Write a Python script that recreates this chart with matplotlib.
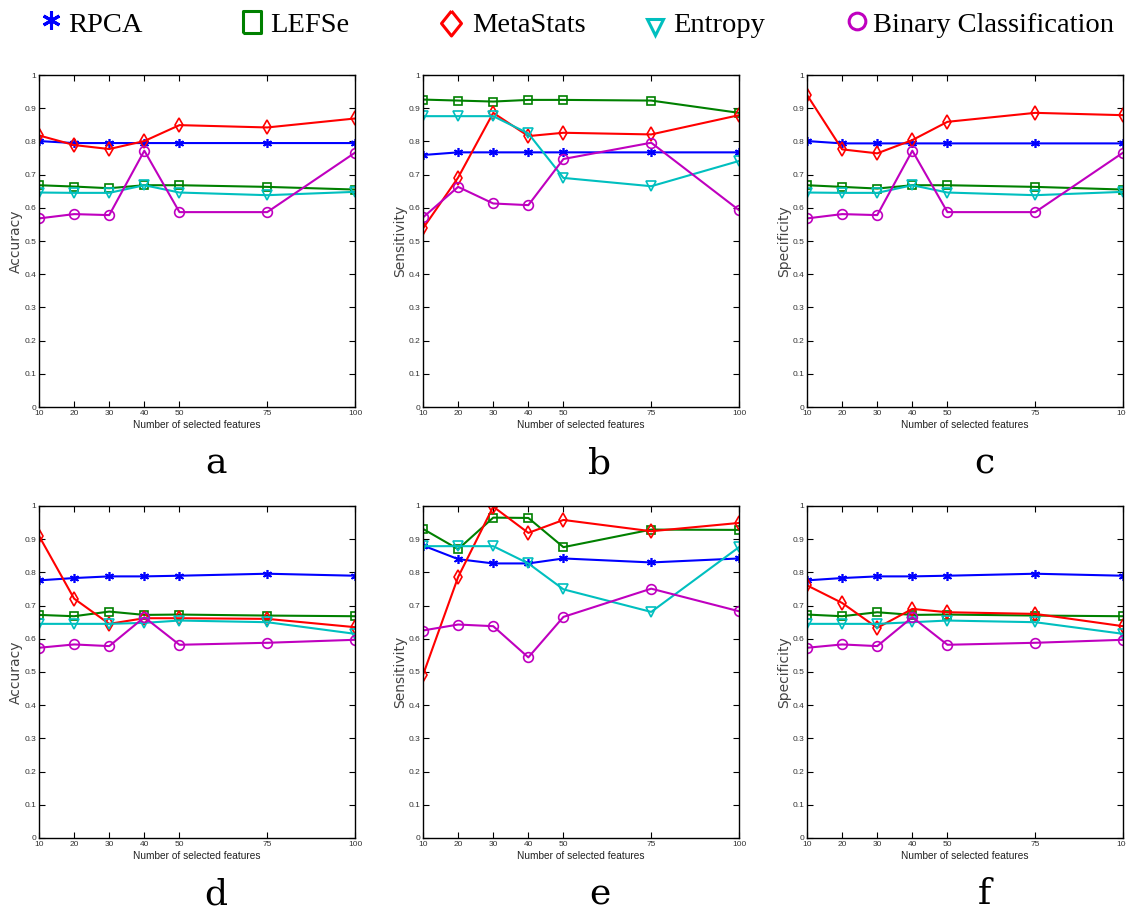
import matplotlib
matplotlib.use("Agg")
import matplotlib.pyplot as plt
from matplotlib.lines import Line2D

features = [10, 20, 30, 40, 50, 75, 100]
x_ticklabels = ["10", "20", "30", "40", "50", "75", "100"]
methods = ["RPCA", "LEFSe", "MetaStats", "Entropy", "Binary Classification"]
panel_letters = ["a", "b", "c", "d", "e", "f"]
y_labels = ["Accuracy", "Sensitivity", "Specificity", "Accuracy", "Sensitivity", "Specificity"]

# panel a
a_rpca = [0.801, 0.795, 0.795, 0.795, 0.795, 0.795, 0.795]
a_lefse = [0.668, 0.664, 0.659, 0.668, 0.668, 0.663, 0.655]
a_meta = [0.818, 0.789, 0.777, 0.801, 0.849, 0.842, 0.869]
a_entropy = [0.646, 0.645, 0.645, 0.668, 0.646, 0.638, 0.648]
a_binary = [0.568, 0.581, 0.578, 0.772, 0.587, 0.587, 0.766]
# panel b
b_rpca = [0.759, 0.767, 0.767, 0.767, 0.767, 0.767, 0.767]
b_lefse = [0.926, 0.923, 0.920, 0.925, 0.925, 0.923, 0.886]
b_meta = [0.538, 0.691, 0.886, 0.816, 0.826, 0.821, 0.879]
b_entropy = [0.876, 0.876, 0.876, 0.824, 0.690, 0.665, 0.741]
b_binary = [0.571, 0.663, 0.613, 0.608, 0.747, 0.796, 0.593]
# panel c
c_rpca = [0.801, 0.794, 0.794, 0.794, 0.794, 0.794, 0.794]
c_lefse = [0.668, 0.663, 0.658, 0.668, 0.668, 0.663, 0.655]
c_meta = [0.940, 0.776, 0.764, 0.804, 0.859, 0.886, 0.879]
c_entropy = [0.646, 0.645, 0.645, 0.668, 0.646, 0.638, 0.648]
c_binary = [0.568, 0.581, 0.578, 0.772, 0.587, 0.587, 0.766]
# panel d
d_rpca = [0.776, 0.783, 0.788, 0.788, 0.790, 0.796, 0.790]
d_lefse = [0.672, 0.668, 0.682, 0.672, 0.673, 0.670, 0.668]
d_meta = [0.910, 0.721, 0.645, 0.662, 0.662, 0.660, 0.635]
d_entropy = [0.645, 0.645, 0.645, 0.648, 0.655, 0.650, 0.615]
d_binary = [0.573, 0.583, 0.578, 0.665, 0.582, 0.588, 0.597]
# panel e
e_rpca = [0.881, 0.840, 0.827, 0.827, 0.842, 0.830, 0.842]
e_lefse = [0.931, 0.870, 0.965, 0.964, 0.876, 0.929, 0.928]
e_meta = [0.491, 0.786, 0.998, 0.919, 0.958, 0.924, 0.949]
e_entropy = [0.879, 0.879, 0.879, 0.827, 0.749, 0.681, 0.876]
e_binary = [0.625, 0.643, 0.638, 0.544, 0.666, 0.751, 0.683]
# panel f
f_rpca = [0.776, 0.783, 0.788, 0.788, 0.790, 0.796, 0.790]
f_lefse = [0.673, 0.668, 0.680, 0.672, 0.673, 0.670, 0.668]
f_meta = [0.761, 0.708, 0.633, 0.690, 0.680, 0.675, 0.638]
f_entropy = [0.645, 0.645, 0.645, 0.650, 0.655, 0.650, 0.615]
f_binary = [0.573, 0.583, 0.578, 0.665, 0.582, 0.588, 0.597]

panels = [
    [a_rpca, a_lefse, a_meta, a_entropy, a_binary],
    [b_rpca, b_lefse, b_meta, b_entropy, b_binary],
    [c_rpca, c_lefse, c_meta, c_entropy, c_binary],
    [d_rpca, d_lefse, d_meta, d_entropy, d_binary],
    [e_rpca, e_lefse, e_meta, e_entropy, e_binary],
    [f_rpca, f_lefse, f_meta, f_entropy, f_binary],
]

colors = ["#0000ff", "#008000", "#ff0000", "#00bfbf", "#bf00bf"]
markers = [(6, 2, 0), "s", "d", "v", "o"]
msizes = [6.5, 5.5, 6.8, 6.5, 7]

W, H = 1126, 911
fig = plt.figure(figsize=(W / 100, H / 100), dpi=100)

lefts = [39, 423, 807]
tops = [75, 506]
aw, ah = 316, 332

small = "Liberation Sans"

for i in range(6):
    r, c = divmod(i, 3)
    ax = fig.add_axes([lefts[c] / W, 1 - (tops[r] + ah) / H, aw / W, ah / H])
    for j in range(5):
        ax.plot(features, panels[i][j], color=colors[j], marker=markers[j],
                markersize=msizes[j], markerfacecolor="none",
                markeredgecolor=colors[j], markeredgewidth=1.2, linewidth=1.5)
    ax.set_xlim(10, 100)
    ax.set_ylim(0, 1)
    ax.set_xticks(features)
    ax.set_xticklabels(x_ticklabels, family=small, fontsize=6, color="#333333")
    ax.set_yticks([k / 10 for k in range(11)])
    ax.set_yticklabels(["0"] + ["0.%d" % k for k in range(1, 10)] + ["1"],
                       family=small, fontsize=6, color="#333333")
    ax.tick_params(direction="in", length=4, width=0.8, top=True, right=True, pad=2)
    for s in ax.spines.values():
        s.set_linewidth(1.0)
    ax.set_xlabel("Number of selected features", family=small, fontsize=7.3,
                  labelpad=2, color="#222222")
    ax.set_ylabel(y_labels[i], fontsize=10, labelpad=1, color="#444444")
    ax.text(0.56, -0.17, panel_letters[i], transform=ax.transAxes, ha="center", va="center",
            family="DejaVu Serif", fontsize=26)

# legend (marker + label pairs)
leg_markers = [(6, 2, 0),
               [(-0.8, -1), (0.8, -1), (0.8, 1), (-0.8, 1), (-0.8, -1)],
               [(0, 1), (0.8, 0), (0, -1), (-0.8, 0), (0, 1)],
               "v", "o"]
leg_mx = [51, 252, 451, 655, 857]
leg_tx = [68, 270, 472, 673, 873]
leg_my = [20, 22, 23, 27, 21]
leg_ms = [13, 16, 18, 12, 12]
leg_y = 1 - 25 / H
for j in range(5):
    fig.add_artist(Line2D([leg_mx[j] / W], [1 - leg_my[j] / H], transform=fig.transFigure,
                          linestyle="none", marker=leg_markers[j], markersize=leg_ms[j],
                          markerfacecolor="none", markeredgecolor=colors[j],
                          markeredgewidth=2.2))
    fig.text(leg_tx[j] / W, leg_y, methods[j], ha="left", va="center",
             family="Liberation Serif", fontsize=20.5)

fig.savefig("out.png", dpi=100)
